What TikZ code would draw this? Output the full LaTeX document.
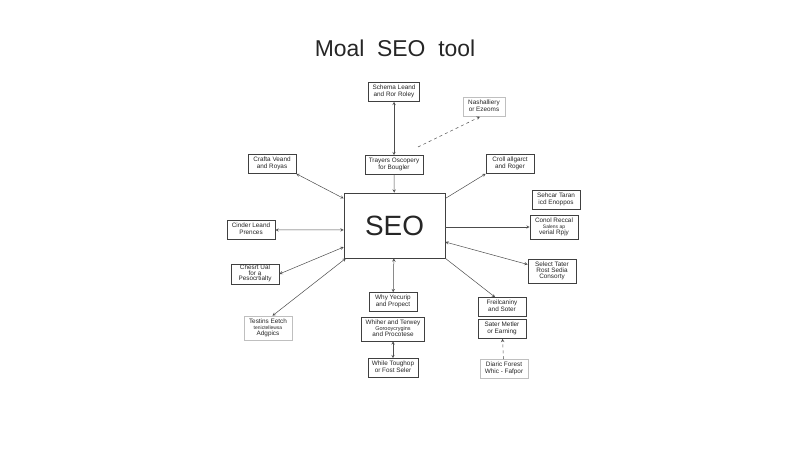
\documentclass[tikz,border=0pt]{standalone}
\usepackage{fontspec}
\setmainfont{Liberation Sans}
\usetikzlibrary{positioning}

\begin{document}
\begin{tikzpicture}[%
  x=1bp, y=1bp,
  >=stealth, % Small arrow heads
  every node/.style={rectangle, draw=black!75, line width=0.6pt, fill=white, text=black!85, text centered, minimum width=48bp, inner xsep=1pt, inner ysep=2.5pt, font=\fontsize{6.4}{7}\selectfont},
  faint/.style={draw=black!25}, % Pale boxes
  link/.style={draw=black!70, line width=0.5pt} % Connectors
]
\setlength{\tabcolsep}{3pt}
\useasboundingbox (0,0) rectangle (788,-450);

% Title
\node [draw=none, fill=none, text=black!85, font=\fontsize{23}{26}\selectfont] (title) at (395,-48) {Moal\ \ SEO\ \ tool};

% Central node
\node [minimum width=101bp, minimum height=65bp, font=\fontsize{28}{30}\selectfont] (seo) at (394.5,-225.5) {SEO};

% Top column
\node (schema) at (394,-92) {%
  \begin{tabular}{c}
    Schema Leand \\
    and Ror Roley
  \end{tabular}
};
\node (trayers) at (394,-165) {%
  \begin{tabular}{c}
    Trayers Oscopery \\
    for Bougler
  \end{tabular}
};
\node [faint, minimum width=42bp] (nash) at (484,-107) {%
  \begin{tabular}{c}
    Nashalliery \\
    or Ezeoms
  \end{tabular}
};
\node (croll) at (510,-164) {%
  \begin{tabular}{c}
    Croll allgarct \\
    and Roger
  \end{tabular}
};

% Left side
\node (crafta) at (272,-164) {%
  \begin{tabular}{c}
    Crafta Veand \\
    and Royas
  \end{tabular}
};
\node (cinder) at (251,-230) {%
  \begin{tabular}{c}
    Cinder Leand \\
    Prences
  \end{tabular}
};
\node [inner ysep=1pt] (chesrt) at (255,-274) {%
  \begin{tabular}{c}
    Chesrt Ual \\[-1.5pt]
    for a \\[-1.5pt]
    Pesocrtialty
  \end{tabular}
};
\node [faint] (testins) at (268,-328) {%
  \begin{tabular}{c}
    Testins Eetch \\[-1pt]
    {\fontsize{5}{6}\selectfont tenictellewsa} \\[-1pt]
    Adgpics
  \end{tabular}
};

% Right side
\node (sehcar) at (556,-200) {%
  \begin{tabular}{c}
    Sehcar Taran \\
    icd Enoppos
  \end{tabular}
};
\node (conol) at (554,-227) {%
  \begin{tabular}{c}
    Conol Reccal \\[-1pt]
    {\fontsize{5}{6}\selectfont Salens ap} \\[-1pt]
    verial Rpjy
  \end{tabular}
};
\node (select) at (552,-271) {%
  \begin{tabular}{c}
    Select Tater \\[-1pt]
    Rost Sedia \\[-1pt]
    Consorty
  \end{tabular}
};

% Bottom column
\node (why) at (393,-302) {%
  \begin{tabular}{c}
    Why Yecurip \\
    and Propect
  \end{tabular}
};
\node (whiher) at (393,-329) {%
  \begin{tabular}{c}
    Whiher and Terwey \\[-1pt]
    {\fontsize{5.5}{6}\selectfont Gorooycrygins} \\[-1pt]
    and Procotese
  \end{tabular}
};
\node (while) at (393,-368) {%
  \begin{tabular}{c}
    While Toughop \\
    or Fost Seler
  \end{tabular}
};

% Bottom right column
\node (freil) at (502,-307) {%
  \begin{tabular}{c}
    Freilcaniny \\
    and Soter
  \end{tabular}
};
\node (sater) at (502,-329) {%
  \begin{tabular}{c}
    Sater Metler \\
    or Earning
  \end{tabular}
};
\node [faint] (diaric) at (504,-369) {%
  \begin{tabular}{c}
    Diaric Forest \\
    Whic - Fafpor
  \end{tabular}
};

% Connectors
\coordinate (dashstart) at (418,-147);
\draw [link, <->] (schema) -- (trayers);
\draw [link, ->] (trayers) -- (seo);
\draw [link, ->, dashed] (dashstart) -- ([xshift=-4bp]nash.south);
\draw [link, ->] (seo.28) -- (croll.south west);
\draw [link, <->] (crafta.south east) -- (seo.152);
\draw [link, <->] (cinder.east) -- (seo.185);
\draw [link, <->] (chesrt.east) -- (seo.203);
\draw [link, <->] (testins.70) -- (seo.214);
\draw [link, ->] (seo.east |- conol.west) -- (conol.west);
\draw [link, <->] (seo.-18) -- (select.165);
\draw [link, ->] (seo.south east) -- (freil.125);
\draw [link, <->] (seo) -- (why);
\draw [link, <->] (whiher) -- (while);
\draw [link, ->, dashed] (diaric) -- (sater);

\end{tikzpicture}
\end{document}
